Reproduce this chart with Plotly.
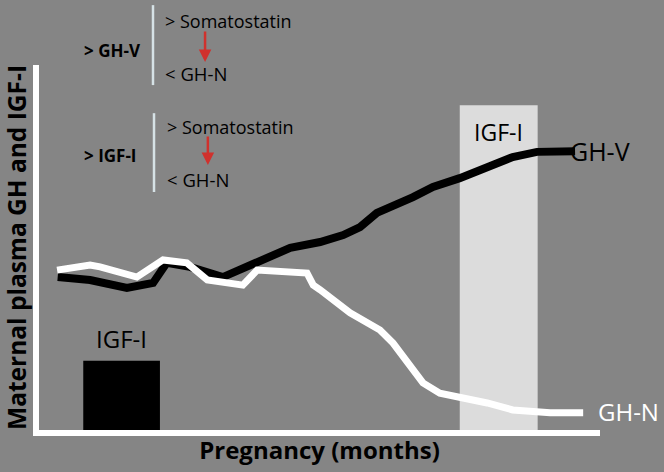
import plotly.graph_objects as go

# months of pregnancy (x) and relative plasma level (y)
gh_n_months = [0.29, 0.82, 0.98, 1.57, 1.99, 2.37, 2.70, 3.27, 3.50, 4.30, 4.40, 4.51,
               4.99, 5.26, 5.47, 5.68, 5.95, 6.16, 6.43, 6.75, 7.19, 7.60, 8.20, 8.73]
gh_n_level = [43.8, 45.2, 44.7, 41.9, 46.6, 45.8, 41.1, 39.7, 43.8, 43.0, 39.7, 38.4,
              32.1, 29.3, 27.4, 23.8, 17.3, 12.9, 10.1, 9.0, 7.4, 5.5, 4.7, 4.7]

gh_v_months = [0.30, 0.82, 1.41, 1.83, 2.05, 2.42, 2.95, 3.50, 4.03, 4.51, 4.88, 5.15,
               5.42, 6.00, 6.32, 6.75, 7.19, 7.60, 7.99, 8.36, 8.60]
gh_v_level = [41.9, 41.1, 38.9, 40.3, 45.8, 44.7, 41.9, 46.0, 49.9, 51.5, 53.4, 55.6,
              59.5, 63.8, 66.6, 69.0, 72.1, 74.8, 76.2, 76.2, 76.4]

# IGF-I blocks: [x0, x1, height]
igf_early = [0.71, 1.94, 19.0]
igf_late = [6.75, 8.0, 89.0]

BG = "#858585"
FONT = "Open Sans"

fig = go.Figure()

fig.add_trace(go.Scatter(x=gh_v_months, y=gh_v_level, mode="lines",
                         line=dict(color="black", width=8), hoverinfo="skip"))
fig.add_trace(go.Scatter(x=gh_n_months, y=gh_n_level, mode="lines",
                         line=dict(color="white", width=7), hoverinfo="skip"))

fig.add_shape(type="rect", xref="x", yref="y", layer="below",
              x0=igf_late[0], x1=igf_late[1], y0=0, y1=igf_late[2],
              fillcolor="#dcdcdc", line_width=0)
fig.add_shape(type="rect", xref="x", yref="y",
              x0=igf_early[0], x1=igf_early[1], y0=0, y1=igf_early[2],
              fillcolor="black", line_width=0)

# labels on the chart
fig.add_annotation(x=(igf_early[0] + igf_early[1]) / 2, y=25.2, text="IGF-I",
                   showarrow=False, font=dict(family=FONT, size=24, color="black"))
fig.add_annotation(x=(igf_late[0] + igf_late[1]) / 2, y=81.6, text="IGF-I",
                   showarrow=False, font=dict(family=FONT, size=23, color="black"))
fig.add_annotation(x=gh_v_months[-1] - 0.12, y=gh_v_level[-1], text="GH-V", xanchor="left",
                   showarrow=False, font=dict(family=FONT, size=25, color="black"))
fig.add_annotation(x=8.93, y=gh_n_level[-1] + 0.5, text="GH-N", xanchor="left",
                   showarrow=False, font=dict(family=FONT, size=24, color="white"))

# the mechanism notes at the top (paper coordinates, they sit above the axes)
notes = [
    dict(lead="> GH-V", y=1.041, bar=(1.164, 0.945), bx=0.2032, tx=0.221,
         top=1.121, bottom=0.978, head=1.008, alen=32, ax=0.296),
    dict(lead="> IGF-I", y=0.753, bar=(0.868, 0.652), bx=0.205, tx=0.2246,
         top=0.830, bottom=0.685, head=0.726, alen=30, ax=0.301),
]
for n in notes:
    fig.add_annotation(xref="paper", yref="paper", x=0.0766, y=n["y"],
                       text="<b>" + n["lead"] + "</b>", xanchor="left", yanchor="middle",
                       showarrow=False, font=dict(family=FONT, size=17, color="black"))
    fig.add_shape(type="line", xref="paper", yref="paper", x0=n["bx"], x1=n["bx"],
                  y0=n["bar"][1], y1=n["bar"][0], line=dict(color="#d6e2e6", width=2.5))
    fig.add_annotation(xref="paper", yref="paper", x=n["tx"], y=n["top"],
                       text="> Somatostatin", xanchor="left", yanchor="middle",
                       showarrow=False, font=dict(family=FONT, size=18, color="black"))
    fig.add_annotation(xref="paper", yref="paper", x=n["tx"], y=n["bottom"],
                       text="< GH-N", xanchor="left", yanchor="middle",
                       showarrow=False, font=dict(family=FONT, size=18.5, color="black"))
    fig.add_annotation(xref="paper", yref="paper", x=n["ax"], y=n["head"],
                       ax=0, ay=-n["alen"], text="",
                       showarrow=True, arrowhead=2, arrowsize=1, arrowwidth=2.5,
                       arrowcolor="#d0312d")

fig.update_layout(
    width=664, height=472,
    margin=dict(l=39, r=64, t=65, b=42),
    paper_bgcolor=BG, plot_bgcolor=BG,
    showlegend=False,
    font=dict(family=FONT),
)
fig.update_xaxes(range=[0, 9], showline=True, linecolor="white", linewidth=6,
                 showgrid=False, zeroline=False, showticklabels=False, ticks="",
                 title=dict(text="<b>Pregnancy (months)</b>", standoff=9,
                            font=dict(family=FONT, size=24, color="black")))
fig.update_yaxes(range=[0, 100], showline=True, linecolor="white", linewidth=6,
                 showgrid=False, zeroline=False, showticklabels=False, ticks="",
                 title=dict(text="<b>Maternal plasma GH and IGF-I</b>", standoff=6,
                            font=dict(family=FONT, size=24.5, color="black")))

fig.write_html("out.html", config={"displayModeBar": False},
               post_script="document.body.style.margin='0';")
